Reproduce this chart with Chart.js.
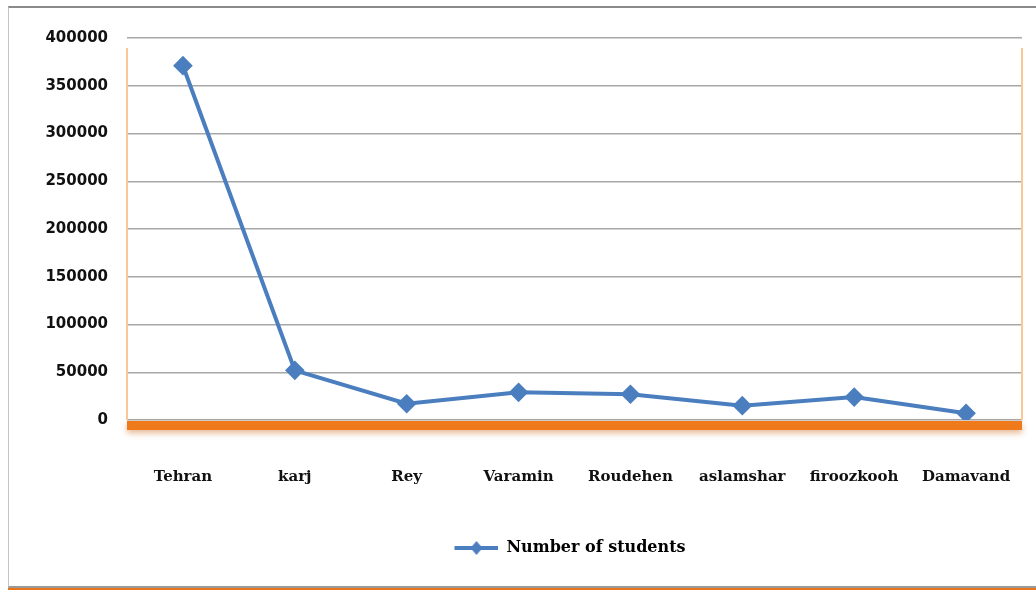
<!DOCTYPE html>
<html>
<head>
<meta charset="utf-8">
<script src="https://cdn.jsdelivr.net/npm/chart.js@4"></script>
<style>
  html, body { margin: 0; padding: 0; background: #fff; overflow: hidden; }
  #frame {
    position: absolute; left: 8px; top: 6px; width: 1040px; height: 578px;
    border-top: 2px solid #8a8a8a; border-left: 1px solid #c4c4c4;
    border-bottom: 2px solid #9a9a9a;
    box-shadow: 0 3px 0 #e8741c;
  }
  #wrap { position: absolute; left: 0; top: 0; width: 1036px; height: 590px; }
</style>
</head>
<body>
<div id="frame"></div>
<div id="wrap"><canvas id="StudentsChart" width="1036" height="590"></canvas></div>
<script>
// Data
const cities = ['Tehran', 'karj', 'Rey', 'Varamin', 'Roudehen', 'aslamshar', 'firoozkooh', 'Damavand'];
const students = [371000, 52000, 17000, 29000, 27000, 15000, 24000, 7000];
const yTicks = [0, 50000, 100000, 150000, 200000, 250000, 300000, 350000, 400000];

const blue = '#4a7ebf';
const iconShift = 118; // empty room left of the legend icon, pushes the legend right

// legend icon: short line with a diamond on it
function legendIcon() {
    var c = document.createElement('canvas');
    c.width = 44 + iconShift; c.height = 14;
    var ctx = c.getContext('2d');
    var x0 = iconShift;
    ctx.strokeStyle = blue; ctx.lineWidth = 4;
    ctx.beginPath(); ctx.moveTo(x0, 7); ctx.lineTo(x0 + 44, 7); ctx.stroke();
    ctx.fillStyle = blue;
    ctx.beginPath(); ctx.moveTo(x0 + 22, 0); ctx.lineTo(x0 + 28, 7); ctx.lineTo(x0 + 22, 14); ctx.lineTo(x0 + 16, 7); ctx.closePath(); ctx.fill();
    return c;
}

// orange floor under the plot and thin orange side walls
const floorPlugin = {
    id: 'floor',
    beforeDatasetsDraw(chart) {
        var a = chart.chartArea, ctx = chart.ctx;
        ctx.save();
        ctx.strokeStyle = '#f9c896'; ctx.lineWidth = 2;
        ctx.beginPath();
        ctx.moveTo(a.left, a.top + 10); ctx.lineTo(a.left, a.bottom);
        ctx.moveTo(a.right, a.top + 10); ctx.lineTo(a.right, a.bottom);
        ctx.stroke();
        ctx.shadowColor = 'rgba(200,90,10,0.45)'; ctx.shadowBlur = 6; ctx.shadowOffsetY = 3;
        ctx.fillStyle = '#ee7a1c';
        ctx.fillRect(a.left, a.bottom + 1, a.right - a.left, 9);
        ctx.restore();
    }
};

const data = {
    labels: cities,
    datasets: [{
        label: 'Number of students',
        data: students,
        borderColor: blue,
        backgroundColor: blue,
        borderWidth: 4,
        pointStyle: 'rectRot',
        pointRadius: 7,
        pointHoverRadius: 7,
        tension: 0
    }]
};

const config = {
    type: 'line',
    data: data,
    plugins: [floorPlugin],
    options: {
        responsive: false,
        animation: false,
        layout: { padding: { left: 0, right: 14, top: 38, bottom: 24 } },
        scales: {
            x: {
                offset: true,
                grid: { display: false, drawTicks: false },
                border: { display: false },
                ticks: {
                    color: '#111', padding: 48, maxRotation: 0, autoSkip: false,
                    font: { family: 'DejaVu Serif', weight: 'bold', size: 15 }
                },
                afterFit: function(scale) { scale.height = 110; scale.paddingLeft = 0; scale.paddingRight = 0; }
            },
            y: {
                min: 0, max: 400000,
                afterBuildTicks: function(scale) { scale.ticks = yTicks.map(v => ({ value: v })); },
                grid: { color: '#a8a8a8', lineWidth: 1.5, drawTicks: false },
                border: { display: false },
                ticks: {
                    color: '#111', padding: 19,
                    font: { family: 'DejaVu Sans', weight: 'bold', size: 15 },
                    callback: function(v) { return String(v); }
                },
                afterFit: function(scale) { scale.width = 127; }
            }
        },
        plugins: {
            tooltip: { enabled: false },
            legend: {
                position: 'bottom',
                labels: {
                    color: '#111',
                    usePointStyle: true,
                    pointStyleWidth: 44 + iconShift,
                    font: { family: 'DejaVu Serif', weight: 'bold', size: 16 },
                    generateLabels: function(chart) {
                        return [{ text: 'Number of students', pointStyle: legendIcon(), fillStyle: blue, strokeStyle: blue, lineWidth: 0, datasetIndex: 0 }];
                    }
                }
            }
        }
    }
};

new Chart(document.getElementById('StudentsChart'), config);
</script>
</body>
</html>
